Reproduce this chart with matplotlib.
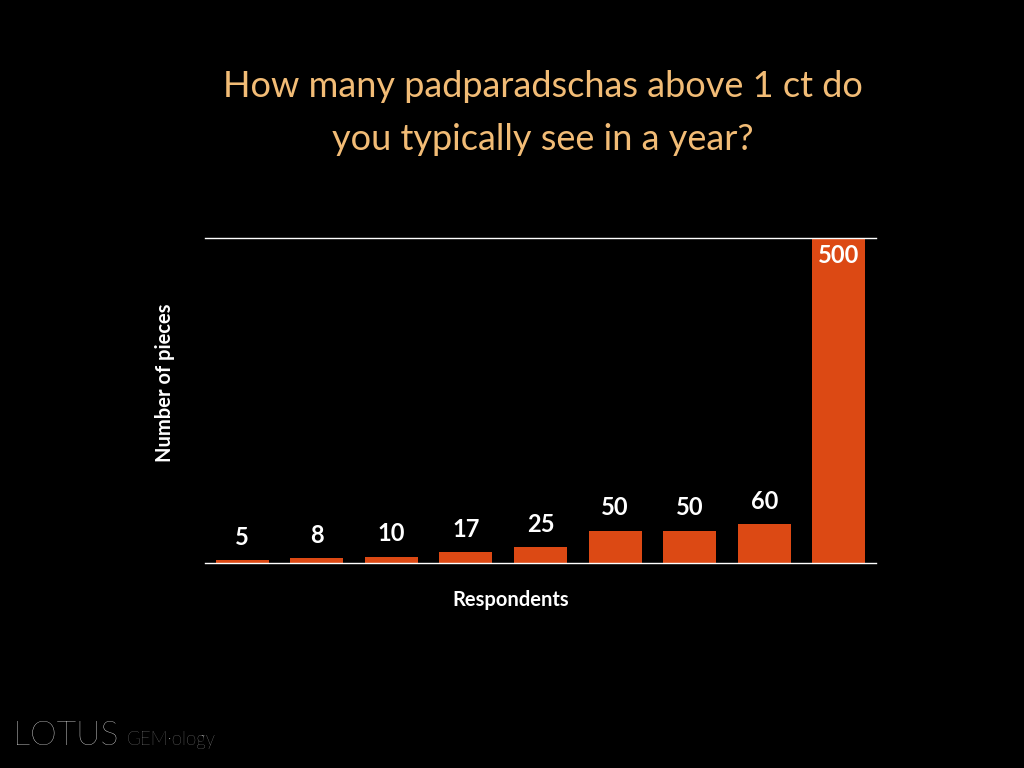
import matplotlib.pyplot as plt
import numpy as np

# survey answers, sorted
respondents = np.arange(9)
pieces = [5, 8, 10, 17, 25, 50, 50, 60, 500]

title = "How many padparadschas above 1 ct do\nyou typically see in a year?"
bar_color = "#DC4914"
title_color = "#F2BC76"

plt.rcParams['font.family'] = ['Lato', 'DejaVu Sans']

fig = plt.figure(figsize=(10.24, 7.68), dpi=100, facecolor="black")
ax = fig.add_axes([0.2002, 0.2669, 0.6553, 0.4232], facecolor="black")

bars = ax.bar(respondents, pieces, width=0.71, color=bar_color, zorder=2)
ax.set_xlim(-0.5, len(pieces) - 0.5)
ax.set_ylim(0, 500)

for x, v in zip(respondents, pieces):
    if v >= 500:
        ax.text(x, v - 9, str(v), ha="center", va="top", color="white",
                fontsize=17, fontweight="bold")
    else:
        ax.annotate(str(v), (x, v), xytext=(0, 8), textcoords="offset points",
                    ha="center", va="bottom", color="white",
                    fontsize=17, fontweight="bold")

ax.axhline(500, color="white", lw=1, clip_on=False, zorder=3)
ax.axhline(0, color="white", lw=1, clip_on=False, zorder=3)
for s in ax.spines.values():
    s.set_visible(False)
ax.set_xticks([])
ax.set_yticks([])

fig.text(0.499, 0.219, "Respondents", color="white", fontsize=14.5,
         fontweight="bold", ha="center", va="center")
fig.text(0.161, 0.501, "Number of pieces", color="white", fontsize=14.5,
         fontweight="bold", ha="center", va="center", rotation=90)

fig.text(0.53, 0.853, title, ha="center", va="center", color=title_color,
         fontsize=26, linespacing=1.75)

fig.text(0.013, 0.030, "LOTUS", color="white", fontsize=24.5, fontweight="light",
         ha="left", va="baseline")
fig.text(0.124, 0.030, "GEM\u00b7ology", color="#BBBBBB", fontsize=13.5,
         fontweight="light", ha="left", va="baseline")

fig.savefig("out.png", dpi=100, facecolor="black")
